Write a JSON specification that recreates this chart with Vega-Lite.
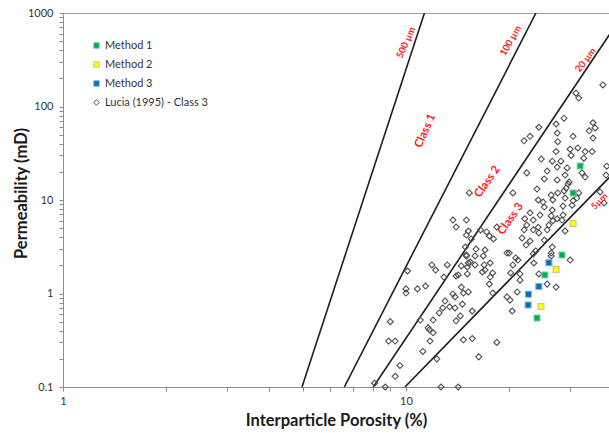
{
  "$schema": "https://vega.github.io/schema/vega-lite/v6.json",
  "width": 547,
  "height": 374,
  "autosize": "none",
  "padding": {"left": 63, "top": 13, "right": 0, "bottom": 46},
  "background": "white",
  "config": {
    "view": {"stroke": "#a0a0a0"},
    "font": "Lato",
    "axis": {
      "grid": false,
      "domainColor": "#8c8c8c",
      "tickColor": "#8c8c8c",
      "labelFont": "Lato",
      "labelFontSize": 11,
      "labelColor": "#333333",
      "titleFont": "Lato",
      "titleFontSize": 16.5,
      "titleFontWeight": "bold",
      "titleColor": "#1a1a1a",
      "tickSize": 4,
      "labelOverlap": false
    },
    "legend": {
      "orient": "none",
      "legendX": 28,
      "legendY": 27,
      "padding": 0,
      "labelFont": "Lato",
      "labelFontSize": 11,
      "labelColor": "#333333",
      "symbolSize": 30,
      "symbolStrokeWidth": 1,
      "rowPadding": 7,
      "labelOffset": 3
    }
  },
  "datasets": {
    "pts": [
      {"x": 37.5, "y": 170, "series": "Lucia (1995) - Class 3"},
      {"x": 31.3, "y": 139, "series": "Lucia (1995) - Class 3"},
      {"x": 31.9, "y": 123, "series": "Lucia (1995) - Class 3"},
      {"x": 28.9, "y": 75, "series": "Lucia (1995) - Class 3"},
      {"x": 24.4, "y": 60, "series": "Lucia (1995) - Class 3"},
      {"x": 27.4, "y": 65, "series": "Lucia (1995) - Class 3"},
      {"x": 35.1, "y": 67, "series": "Lucia (1995) - Class 3"},
      {"x": 35.6, "y": 59, "series": "Lucia (1995) - Class 3"},
      {"x": 34.2, "y": 55, "series": "Lucia (1995) - Class 3"},
      {"x": 22.1, "y": 43, "series": "Lucia (1995) - Class 3"},
      {"x": 23.0, "y": 48, "series": "Lucia (1995) - Class 3"},
      {"x": 27.6, "y": 52, "series": "Lucia (1995) - Class 3"},
      {"x": 30.7, "y": 48, "series": "Lucia (1995) - Class 3"},
      {"x": 35.1, "y": 46, "series": "Lucia (1995) - Class 3"},
      {"x": 27.7, "y": 42, "series": "Lucia (1995) - Class 3"},
      {"x": 30.1, "y": 35, "series": "Lucia (1995) - Class 3"},
      {"x": 31.7, "y": 36, "series": "Lucia (1995) - Class 3"},
      {"x": 33.3, "y": 33, "series": "Lucia (1995) - Class 3"},
      {"x": 34.9, "y": 33, "series": "Lucia (1995) - Class 3"},
      {"x": 27.4, "y": 33, "series": "Lucia (1995) - Class 3"},
      {"x": 30.3, "y": 30, "series": "Lucia (1995) - Class 3"},
      {"x": 33.0, "y": 28, "series": "Lucia (1995) - Class 3"},
      {"x": 24.8, "y": 27.4, "series": "Lucia (1995) - Class 3"},
      {"x": 26.7, "y": 26, "series": "Lucia (1995) - Class 3"},
      {"x": 28.3, "y": 26, "series": "Lucia (1995) - Class 3"},
      {"x": 27.6, "y": 22.5, "series": "Lucia (1995) - Class 3"},
      {"x": 29.5, "y": 22, "series": "Lucia (1995) - Class 3"},
      {"x": 38.5, "y": 23, "series": "Lucia (1995) - Class 3"},
      {"x": 25.8, "y": 20.4, "series": "Lucia (1995) - Class 3"},
      {"x": 22.5, "y": 19.5, "series": "Lucia (1995) - Class 3"},
      {"x": 29.1, "y": 18.5, "series": "Lucia (1995) - Class 3"},
      {"x": 32.6, "y": 19.5, "series": "Lucia (1995) - Class 3"},
      {"x": 33.3, "y": 17.6, "series": "Lucia (1995) - Class 3"},
      {"x": 38.3, "y": 18.5, "series": "Lucia (1995) - Class 3"},
      {"x": 25.3, "y": 16.8, "series": "Lucia (1995) - Class 3"},
      {"x": 27.6, "y": 16.4, "series": "Lucia (1995) - Class 3"},
      {"x": 29.9, "y": 15.6, "series": "Lucia (1995) - Class 3"},
      {"x": 29.7, "y": 14.8, "series": "Lucia (1995) - Class 3"},
      {"x": 24.1, "y": 13.1, "series": "Lucia (1995) - Class 3"},
      {"x": 20.5, "y": 11.9, "series": "Lucia (1995) - Class 3"},
      {"x": 15.3, "y": 11.9, "series": "Lucia (1995) - Class 3"},
      {"x": 26.5, "y": 11.3, "series": "Lucia (1995) - Class 3"},
      {"x": 27.7, "y": 11.9, "series": "Lucia (1995) - Class 3"},
      {"x": 28.9, "y": 12.5, "series": "Lucia (1995) - Class 3"},
      {"x": 29.3, "y": 13.4, "series": "Lucia (1995) - Class 3"},
      {"x": 31.9, "y": 11.9, "series": "Lucia (1995) - Class 3"},
      {"x": 31.5, "y": 10.5, "series": "Lucia (1995) - Class 3"},
      {"x": 30.7, "y": 9.8, "series": "Lucia (1995) - Class 3"},
      {"x": 29.1, "y": 10.5, "series": "Lucia (1995) - Class 3"},
      {"x": 26.8, "y": 10, "series": "Lucia (1995) - Class 3"},
      {"x": 24.3, "y": 10, "series": "Lucia (1995) - Class 3"},
      {"x": 25.1, "y": 9.5, "series": "Lucia (1995) - Class 3"},
      {"x": 25.3, "y": 8.4, "series": "Lucia (1995) - Class 3"},
      {"x": 28.7, "y": 8.6, "series": "Lucia (1995) - Class 3"},
      {"x": 30.5, "y": 8.8, "series": "Lucia (1995) - Class 3"},
      {"x": 26.7, "y": 7.8, "series": "Lucia (1995) - Class 3"},
      {"x": 24.6, "y": 6.9, "series": "Lucia (1995) - Class 3"},
      {"x": 23.0, "y": 7.3, "series": "Lucia (1995) - Class 3"},
      {"x": 26.5, "y": 6.75, "series": "Lucia (1995) - Class 3"},
      {"x": 27.6, "y": 6.3, "series": "Lucia (1995) - Class 3"},
      {"x": 28.7, "y": 6.9, "series": "Lucia (1995) - Class 3"},
      {"x": 26.8, "y": 6.0, "series": "Lucia (1995) - Class 3"},
      {"x": 28.5, "y": 6.1, "series": "Lucia (1995) - Class 3"},
      {"x": 23.5, "y": 6.1, "series": "Lucia (1995) - Class 3"},
      {"x": 22.2, "y": 6.3, "series": "Lucia (1995) - Class 3"},
      {"x": 22.5, "y": 5.4, "series": "Lucia (1995) - Class 3"},
      {"x": 24.3, "y": 5.1, "series": "Lucia (1995) - Class 3"},
      {"x": 26.1, "y": 5.4, "series": "Lucia (1995) - Class 3"},
      {"x": 25.8, "y": 4.8, "series": "Lucia (1995) - Class 3"},
      {"x": 29.1, "y": 4.66, "series": "Lucia (1995) - Class 3"},
      {"x": 23.5, "y": 4.8, "series": "Lucia (1995) - Class 3"},
      {"x": 22.1, "y": 4.8, "series": "Lucia (1995) - Class 3"},
      {"x": 24.4, "y": 4.44, "series": "Lucia (1995) - Class 3"},
      {"x": 21.8, "y": 3.92, "series": "Lucia (1995) - Class 3"},
      {"x": 23.0, "y": 3.64, "series": "Lucia (1995) - Class 3"},
      {"x": 25.3, "y": 3.73, "series": "Lucia (1995) - Class 3"},
      {"x": 22.4, "y": 3.3, "series": "Lucia (1995) - Class 3"},
      {"x": 26.7, "y": 3.14, "series": "Lucia (1995) - Class 3"},
      {"x": 26.5, "y": 2.71, "series": "Lucia (1995) - Class 3"},
      {"x": 30.1, "y": 2.28, "series": "Lucia (1995) - Class 3"},
      {"x": 26.5, "y": 2.52, "series": "Lucia (1995) - Class 3"},
      {"x": 23.6, "y": 2.12, "series": "Lucia (1995) - Class 3"},
      {"x": 24.4, "y": 1.62, "series": "Lucia (1995) - Class 3"},
      {"x": 19.7, "y": 2.71, "series": "Lucia (1995) - Class 3"},
      {"x": 20.0, "y": 2.71, "series": "Lucia (1995) - Class 3"},
      {"x": 20.9, "y": 2.4, "series": "Lucia (1995) - Class 3"},
      {"x": 21.2, "y": 2.28, "series": "Lucia (1995) - Class 3"},
      {"x": 21.5, "y": 1.62, "series": "Lucia (1995) - Class 3"},
      {"x": 20.5, "y": 2.02, "series": "Lucia (1995) - Class 3"},
      {"x": 18.4, "y": 5.14, "series": "Lucia (1995) - Class 3"},
      {"x": 13.7, "y": 6.1, "series": "Lucia (1995) - Class 3"},
      {"x": 14.0, "y": 5.14, "series": "Lucia (1995) - Class 3"},
      {"x": 15.0, "y": 6.1, "series": "Lucia (1995) - Class 3"},
      {"x": 15.2, "y": 4.66, "series": "Lucia (1995) - Class 3"},
      {"x": 15.0, "y": 4.22, "series": "Lucia (1995) - Class 3"},
      {"x": 16.5, "y": 4.78, "series": "Lucia (1995) - Class 3"},
      {"x": 17.2, "y": 4.55, "series": "Lucia (1995) - Class 3"},
      {"x": 17.5, "y": 4.12, "series": "Lucia (1995) - Class 3"},
      {"x": 18.0, "y": 3.83, "series": "Lucia (1995) - Class 3"},
      {"x": 15.5, "y": 3.83, "series": "Lucia (1995) - Class 3"},
      {"x": 14.9, "y": 3.14, "series": "Lucia (1995) - Class 3"},
      {"x": 16.0, "y": 2.99, "series": "Lucia (1995) - Class 3"},
      {"x": 16.8, "y": 2.52, "series": "Lucia (1995) - Class 3"},
      {"x": 15.0, "y": 2.52, "series": "Lucia (1995) - Class 3"},
      {"x": 15.4, "y": 2.17, "series": "Lucia (1995) - Class 3"},
      {"x": 14.5, "y": 1.97, "series": "Lucia (1995) - Class 3"},
      {"x": 15.1, "y": 1.92, "series": "Lucia (1995) - Class 3"},
      {"x": 15.9, "y": 2.02, "series": "Lucia (1995) - Class 3"},
      {"x": 16.9, "y": 2.02, "series": "Lucia (1995) - Class 3"},
      {"x": 17.6, "y": 2.12, "series": "Lucia (1995) - Class 3"},
      {"x": 17.9, "y": 1.66, "series": "Lucia (1995) - Class 3"},
      {"x": 16.7, "y": 1.70, "series": "Lucia (1995) - Class 3"},
      {"x": 15.1, "y": 1.62, "series": "Lucia (1995) - Class 3"},
      {"x": 14.2, "y": 1.58, "series": "Lucia (1995) - Class 3"},
      {"x": 13.2, "y": 2.02, "series": "Lucia (1995) - Class 3"},
      {"x": 11.9, "y": 2.02, "series": "Lucia (1995) - Class 3"},
      {"x": 12.2, "y": 1.78, "series": "Lucia (1995) - Class 3"},
      {"x": 12.9, "y": 1.50, "series": "Lucia (1995) - Class 3"},
      {"x": 10.1, "y": 1.74, "series": "Lucia (1995) - Class 3"},
      {"x": 17.0, "y": 2.92, "series": "Lucia (1995) - Class 3"},
      {"x": 17.6, "y": 1.50, "series": "Lucia (1995) - Class 3"},
      {"x": 20.2, "y": 1.66, "series": "Lucia (1995) - Class 3"},
      {"x": 21.5, "y": 1.39, "series": "Lucia (1995) - Class 3"},
      {"x": 23.9, "y": 2.85, "series": "Lucia (1995) - Class 3"},
      {"x": 25.8, "y": 1.26, "series": "Lucia (1995) - Class 3"},
      {"x": 27.4, "y": 1.17, "series": "Lucia (1995) - Class 3"},
      {"x": 21.1, "y": 1.04, "series": "Lucia (1995) - Class 3"},
      {"x": 19.7, "y": 0.92, "series": "Lucia (1995) - Class 3"},
      {"x": 20.1, "y": 0.85, "series": "Lucia (1995) - Class 3"},
      {"x": 20.4, "y": 0.65, "series": "Lucia (1995) - Class 3"},
      {"x": 17.5, "y": 1.26, "series": "Lucia (1995) - Class 3"},
      {"x": 17.9, "y": 1.01, "series": "Lucia (1995) - Class 3"},
      {"x": 18.4, "y": 0.30, "series": "Lucia (1995) - Class 3"},
      {"x": 16.3, "y": 0.21, "series": "Lucia (1995) - Class 3"},
      {"x": 15.6, "y": 0.65, "series": "Lucia (1995) - Class 3"},
      {"x": 15.6, "y": 0.33, "series": "Lucia (1995) - Class 3"},
      {"x": 14.7, "y": 0.32, "series": "Lucia (1995) - Class 3"},
      {"x": 10.0, "y": 1.12, "series": "Lucia (1995) - Class 3"},
      {"x": 10.0, "y": 1.01, "series": "Lucia (1995) - Class 3"},
      {"x": 10.8, "y": 1.12, "series": "Lucia (1995) - Class 3"},
      {"x": 11.4, "y": 1.20, "series": "Lucia (1995) - Class 3"},
      {"x": 14.5, "y": 1.17, "series": "Lucia (1995) - Class 3"},
      {"x": 13.7, "y": 0.99, "series": "Lucia (1995) - Class 3"},
      {"x": 13.9, "y": 0.92, "series": "Lucia (1995) - Class 3"},
      {"x": 13.0, "y": 0.83, "series": "Lucia (1995) - Class 3"},
      {"x": 14.7, "y": 1.01, "series": "Lucia (1995) - Class 3"},
      {"x": 15.2, "y": 1.04, "series": "Lucia (1995) - Class 3"},
      {"x": 13.4, "y": 0.72, "series": "Lucia (1995) - Class 3"},
      {"x": 13.9, "y": 0.70, "series": "Lucia (1995) - Class 3"},
      {"x": 12.8, "y": 0.70, "series": "Lucia (1995) - Class 3"},
      {"x": 12.5, "y": 0.62, "series": "Lucia (1995) - Class 3"},
      {"x": 14.4, "y": 0.575, "series": "Lucia (1995) - Class 3"},
      {"x": 14.0, "y": 0.51, "series": "Lucia (1995) - Class 3"},
      {"x": 12.0, "y": 0.52, "series": "Lucia (1995) - Class 3"},
      {"x": 9.0, "y": 0.50, "series": "Lucia (1995) - Class 3"},
      {"x": 11.0, "y": 0.52, "series": "Lucia (1995) - Class 3"},
      {"x": 11.6, "y": 0.43, "series": "Lucia (1995) - Class 3"},
      {"x": 11.7, "y": 0.41, "series": "Lucia (1995) - Class 3"},
      {"x": 12.0, "y": 0.38, "series": "Lucia (1995) - Class 3"},
      {"x": 11.75, "y": 0.31, "series": "Lucia (1995) - Class 3"},
      {"x": 8.9, "y": 0.31, "series": "Lucia (1995) - Class 3"},
      {"x": 9.3, "y": 0.31, "series": "Lucia (1995) - Class 3"},
      {"x": 11.2, "y": 0.24, "series": "Lucia (1995) - Class 3"},
      {"x": 12.3, "y": 0.20, "series": "Lucia (1995) - Class 3"},
      {"x": 9.6, "y": 0.17, "series": "Lucia (1995) - Class 3"},
      {"x": 9.3, "y": 0.13, "series": "Lucia (1995) - Class 3"},
      {"x": 8.1, "y": 0.11, "series": "Lucia (1995) - Class 3"},
      {"x": 8.7, "y": 0.10, "series": "Lucia (1995) - Class 3"},
      {"x": 12.65, "y": 0.10, "series": "Lucia (1995) - Class 3"},
      {"x": 14.2, "y": 0.10, "series": "Lucia (1995) - Class 3"},
      {"x": 14.6, "y": 0.77, "series": "Lucia (1995) - Class 3"},
      {"x": 14.0, "y": 1.54, "series": "Lucia (1995) - Class 3"},
      {"x": 15.0, "y": 2.58, "series": "Lucia (1995) - Class 3"},
      {"x": 15.2, "y": 2.12, "series": "Lucia (1995) - Class 3"},
      {"x": 15.9, "y": 2.52, "series": "Lucia (1995) - Class 3"},
      {"x": 17.0, "y": 1.78, "series": "Lucia (1995) - Class 3"},
      {"x": 23.5, "y": 2.65, "series": "Lucia (1995) - Class 3"},
      {"x": 36.8, "y": 12.2, "series": "Lucia (1995) - Class 3"},
      {"x": 37.8, "y": 9.3, "series": "Lucia (1995) - Class 3"},
      {"x": 32.2, "y": 23.1, "series": "Method 1"},
      {"x": 30.7, "y": 11.9, "series": "Method 1"},
      {"x": 28.5, "y": 2.58, "series": "Method 1"},
      {"x": 25.4, "y": 1.58, "series": "Method 1"},
      {"x": 24.1, "y": 0.547, "series": "Method 1"},
      {"x": 30.7, "y": 5.63, "series": "Method 2"},
      {"x": 27.4, "y": 1.81, "series": "Method 2"},
      {"x": 24.75, "y": 0.726, "series": "Method 2"},
      {"x": 26.1, "y": 2.13, "series": "Method 3"},
      {"x": 24.4, "y": 1.19, "series": "Method 3"},
      {"x": 22.75, "y": 0.983, "series": "Method 3"},
      {"x": 22.7, "y": 0.753, "series": "Method 3"}
    ],
    "lines": [
      {"line": "500", "x": 4.975, "y": 0.1},
      {"line": "500", "x": 11.32, "y": 1000},
      {"line": "100", "x": 6.61, "y": 0.1},
      {"line": "100", "x": 23.93, "y": 1000},
      {"line": "20", "x": 8.03, "y": 0.1},
      {"line": "20", "x": 42, "y": 857},
      {"line": "5", "x": 9.93, "y": 0.1},
      {"line": "5", "x": 42, "y": 22.7}
    ],
    "labels": [
      {"label": "500 µm", "x": 10.0, "y": 481},
      {"label": "100 µm", "x": 20.2, "y": 506},
      {"label": "20 µm", "x": 33.4, "y": 314},
      {"label": "5µm", "x": 36.6, "y": 9.7},
      {"label": "Class 1", "x": 11.4, "y": 54.7},
      {"label": "Class 2", "x": 17.3, "y": 15.6},
      {"label": "Class 3", "x": 20.2, "y": 6.26}
    ]
  },
  "encoding": {
    "x": {
      "field": "x",
      "type": "quantitative",
      "scale": {"type": "log", "domain": [1, 39.34], "nice": false},
      "axis": {
        "title": "Interparticle Porosity (%)",
        "values": [1, 2, 3, 4, 5, 6, 7, 8, 9, 10, 20, 30],
        "format": "~g",
        "labelExpr": "(datum.value == 1 || datum.value == 10) ? datum.label : ''",
        "labelFlush": false,
        "labelPadding": 4,
        "titleX": 273,
        "titleY": 33,
        "titleBaseline": "middle"
      }
    },
    "y": {
      "field": "y",
      "type": "quantitative",
      "scale": {"type": "log", "domain": [0.1, 1000], "nice": false},
      "axis": {
        "title": "Permeability (mD)",
        "values": [0.1, 0.2, 0.3, 0.4, 0.5, 0.6, 0.7, 0.8, 0.9, 1, 2, 3, 4, 5, 6, 7, 8, 9, 10, 20, 30, 40, 50, 60, 70, 80, 90, 100, 200, 300, 400, 500, 600, 700, 800, 900, 1000],
        "format": "~g",
        "labelExpr": "indexof([0.1, 1, 10, 100, 1000], datum.value) >= 0 ? datum.label : ''",
        "labelPadding": 6,
        "titleX": -42,
        "titleY": 180,
        "titleBaseline": "middle"
      }
    }
  },
  "layer": [
    {
      "data": {"name": "lines"},
      "mark": {"type": "line", "clip": true, "color": "#1e1e1e", "strokeWidth": 1.6},
      "encoding": {"detail": {"field": "line", "type": "nominal"}}
    },
    {
      "data": {"name": "pts"},
      "mark": {"type": "point", "opacity": 1, "size": 36, "strokeWidth": 1.1},
      "encoding": {
        "fill": {
          "field": "series", "type": "nominal", "title": null,
          "scale": {"domain": ["Method 1", "Method 2", "Method 3", "Lucia (1995) - Class 3"], "range": ["#00b050", "#ffff00", "#0070c0", "transparent"]}
        },
        "stroke": {
          "field": "series", "type": "nominal", "title": null,
          "scale": {"domain": ["Method 1", "Method 2", "Method 3", "Lucia (1995) - Class 3"], "range": ["#7fd1a6", "#c9c98a", "#7fb0d8", "#505050"]}
        },
        "shape": {
          "field": "series", "type": "nominal", "title": null,
          "scale": {"domain": ["Method 1", "Method 2", "Method 3", "Lucia (1995) - Class 3"], "range": ["square", "square", "square", "diamond"]}
        }
      }
    },
    {
      "data": {"name": "labels"},
      "transform": [{"filter": "datum.label === '500 µm'"}],
      "mark": {"type": "text", "angle": -66, "color": "#ff1a1a", "font": "Lato", "fontWeight": "bold", "fontSize": 9.5},
      "encoding": {"text": {"field": "label"}}
    },
    {
      "data": {"name": "labels"},
      "transform": [{"filter": "datum.label === '100 µm'"}],
      "mark": {"type": "text", "angle": -60, "color": "#ff1a1a", "font": "Lato", "fontWeight": "bold", "fontSize": 9.5},
      "encoding": {"text": {"field": "label"}}
    },
    {
      "data": {"name": "labels"},
      "transform": [{"filter": "datum.label === '20 µm'"}],
      "mark": {"type": "text", "angle": -52, "color": "#ff1a1a", "font": "Lato", "fontWeight": "bold", "fontSize": 9.5},
      "encoding": {"text": {"field": "label"}}
    },
    {
      "data": {"name": "labels"},
      "transform": [{"filter": "datum.label === '5µm'"}],
      "mark": {"type": "text", "angle": -45, "color": "#ff1a1a", "font": "Lato", "fontWeight": "bold", "fontSize": 9},
      "encoding": {"text": {"field": "label"}}
    },
    {
      "data": {"name": "labels"},
      "transform": [{"filter": "datum.label === 'Class 1'"}],
      "mark": {"type": "text", "angle": -66, "color": "#ff1a1a", "font": "Lato", "fontWeight": "bold", "fontSize": 11.5},
      "encoding": {"text": {"field": "label"}}
    },
    {
      "data": {"name": "labels"},
      "transform": [{"filter": "datum.label === 'Class 2'"}],
      "mark": {"type": "text", "angle": -55, "color": "#ff1a1a", "font": "Lato", "fontWeight": "bold", "fontSize": 11.5},
      "encoding": {"text": {"field": "label"}}
    },
    {
      "data": {"name": "labels"},
      "transform": [{"filter": "datum.label === 'Class 3'"}],
      "mark": {"type": "text", "angle": -55, "color": "#ff1a1a", "font": "Lato", "fontWeight": "bold", "fontSize": 11.5},
      "encoding": {"text": {"field": "label"}}
    }
  ]
}
